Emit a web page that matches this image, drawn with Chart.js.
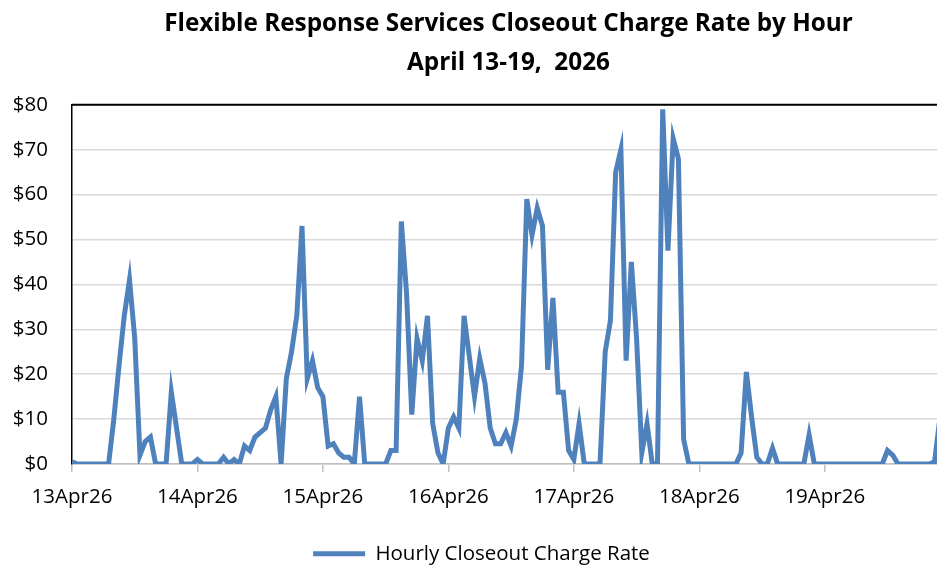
<!DOCTYPE html>
<html>
<head>
<meta charset="utf-8">
<script src="https://cdn.jsdelivr.net/npm/chart.js@4.4.1/dist/chart.umd.min.js"></script>
<style>
  html, body { margin: 0; padding: 0; background: #fff; overflow: hidden; }
  #wrap { width: 963px; height: 568px; }
</style>
</head>
<body>
<div id="wrap"><canvas id="myChart" width="963" height="568"></canvas></div>
<script>
var dayTicks = [0, 24, 48, 72, 96, 120, 144];
var dayLabels = ['13Apr26', '14Apr26', '15Apr26', '16Apr26', '17Apr26', '18Apr26', '19Apr26'];
var yTicks = [0, 10, 20, 30, 40, 50, 60, 70, 80];

// hourly rate, 13 Apr 00:00 .. 19 Apr 23:00
var rate13 = [0.5, 0, 0, 0, 0, 0, 0, 0, 10, 22, 33, 41, 28, 2, 5, 6, 0, 0, 0, 16, 8, 0, 0, 0];
var rate14 = [1, 0, 0, 0, 0, 1.5, 0, 1, 0, 4, 3, 6, 7, 8, 12, 15, 0, 19, 25, 33, 53, 19, 23, 17];
var rate15 = [15, 4, 4.5, 2.5, 1.5, 1.5, 0, 15, 0, 0, 0, 0, 0, 3, 3, 54, 38, 11, 28, 23, 33, 9, 2.5, 0];
var rate16 = [8, 10.5, 8, 33, 24, 15, 23.5, 18, 8, 4.5, 4.5, 7, 4, 10, 22, 59, 51, 57, 53, 21, 37, 16, 16, 3];
var rate17 = [1, 9, 0, 0, 0, 0, 25, 32, 65, 70, 23, 45, 28, 2.5, 9, 0, 0, 79, 47.5, 72.5, 68, 5.5, 0, 0];
var rate18 = [0, 0, 0, 0, 0, 0, 0, 0, 2.5, 20.5, 10.5, 1.5, 0, 0, 3.5, 0, 0, 0, 0, 0, 0, 6.5, 0, 0];
var rate19 = [0, 0, 0, 0, 0, 0, 0, 0, 0, 0, 0, 0, 3, 2, 0, 0, 0, 0, 0, 0, 0, 0.5, 10, 14];

var rates = rate13.concat(rate14, rate15, rate16, rate17, rate18, rate19);
var points = rates.map(function (v, i) { return { x: i, y: v }; });

var font = "'Open Sans', sans-serif";

var topBorder = {
  id: 'topBorder',
  afterDatasetsDraw: function (chart) {
    var a = chart.chartArea, c = chart.ctx;
    c.save();
    c.strokeStyle = '#000';
    c.lineWidth = 2;
    c.beginPath();
    c.moveTo(a.left, a.top);
    c.lineTo(a.right, a.top);
    c.stroke();
    c.restore();
  }
};

var ctx = document.getElementById('myChart').getContext('2d');
var myChart = new Chart(ctx, {
  type: 'line',
  data: {
    datasets: [{
      label: 'Hourly Closeout Charge Rate',
      data: points,
      borderColor: '#4f81bd',
      backgroundColor: '#4f81bd',
      borderWidth: 5,
      pointRadius: 0,
      tension: 0,
      fill: false
    }]
  },
  options: {
    responsive: false,
    animation: false,
    layout: { padding: { left: 0, right: 0, top: 0, bottom: -6 } },
    plugins: {
      title: {
        display: true,
        fullSize: false,
        text: ['Flexible Response Services Closeout Charge Rate by Hour', 'April 13-19,  2026'],
        color: '#000',
        font: { family: font, size: 24.3, weight: 'bold', lineHeight: 1.6 },
        padding: { top: 5, bottom: 22 }
      },
      legend: {
        position: 'bottom',
        labels: {
          color: '#000',
          font: { family: font, size: 20.5 },
          usePointStyle: true,
          pointStyle: 'line',
          pointStyleWidth: 52,
          padding: 10
        }
      },
      tooltip: { enabled: false }
    },
    scales: {
      x: {
        type: 'linear',
        min: 0,
        max: rates.length - 1,
        afterBuildTicks: function (s) { s.ticks = dayTicks.map(function (v) { return { value: v }; }); },
        afterFit: function (s) { s.height = 69.5; },
        ticks: {
          color: '#000',
          font: { family: font, size: 20.5 },
          padding: 13,
          maxRotation: 0,
          callback: function (v) { return dayLabels[dayTicks.indexOf(v)]; }
        },
        grid: { drawOnChartArea: false, drawTicks: true, tickLength: 8, color: '#bfbfbf', lineWidth: 1.5 },
        border: { color: '#bfbfbf', width: 1.5 }
      },
      y: {
        min: 0,
        max: 80,
        afterBuildTicks: function (s) { s.ticks = yTicks.map(function (v) { return { value: v }; }); },
        afterFit: function (s) { s.width = 72; },
        ticks: {
          color: '#000',
          font: { family: font, size: 20.5 },
          padding: 24,
          callback: function (v) { return '$' + v; }
        },
        grid: { drawTicks: false, color: '#d9d9d9', lineWidth: 1.5 },
        border: { color: '#000', width: 1.5 }
      },
      // empty right margin so the plot ends past the visible window
      yRight: {
        position: 'right',
        min: 0,
        max: 80,
        afterFit: function (s) { s.width = 18; },
        ticks: { display: false },
        grid: { display: false },
        border: { display: false }
      }
    }
  },
  plugins: [topBorder]
});
</script>
</body>
</html>
